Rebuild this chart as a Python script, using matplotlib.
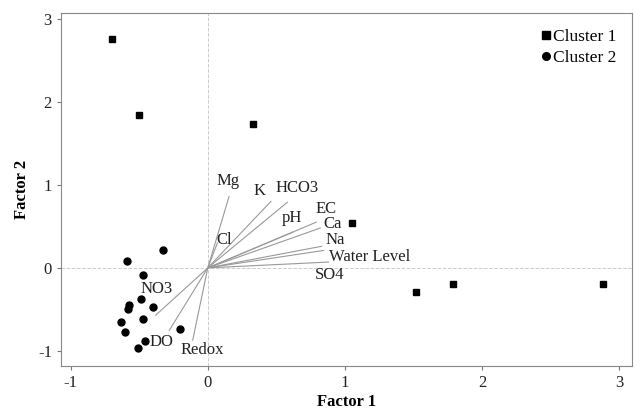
import matplotlib.pyplot as plt

plt.rcParams['font.family'] = ['Liberation Serif', 'DejaVu Serif']
plt.rcParams['axes.unicode_minus'] = False

# Scores
c1_x = [-0.70, -0.50, 0.33, 1.05, 1.52, 1.79, 2.88]
c1_y = [2.76, 1.84, 1.73, 0.54, -0.29, -0.19, -0.20]
c2_x = [-0.33, -0.59, -0.47, -0.49, -0.575, -0.585, -0.40, -0.47, -0.63, -0.60, -0.20, -0.46, -0.51]
c2_y = [0.21, 0.08, -0.08, -0.37, -0.45, -0.50, -0.47, -0.61, -0.65, -0.77, -0.73, -0.88, -0.96]

# Loadings (vector ends) and label positions
var_names = ['Mg', 'Cl', 'K', 'HCO3', 'pH', 'EC', 'Ca', 'Na', 'Water Level', 'SO4', 'NO3', 'DO', 'Redox']
load_x = [0.155, 0.07, 0.46, 0.58, 0.62, 0.79, 0.82, 0.83, 0.845, 0.88, -0.38, -0.28, -0.11]
load_y = [0.86, 0.30, 0.80, 0.79, 0.43, 0.55, 0.48, 0.26, 0.21, 0.07, -0.57, -0.75, -0.87]
lab_x = [0.15, 0.12, 0.38, 0.65, 0.61, 0.865, 0.91, 0.925, 1.18, 0.89, -0.37, -0.34, -0.04]
lab_y = [1.04, 0.34, 0.92, 0.96, 0.60, 0.71, 0.53, 0.34, 0.13, -0.08, -0.25, -0.89, -0.99]

fig = plt.figure(figsize=(6.35, 4.13), dpi=100)
ax = fig.add_axes([0.096, 0.114, 0.899, 0.855])

ax.axhline(0, color='#cccccc', lw=0.7, ls='--', zorder=0)
ax.axvline(0, color='#cccccc', lw=0.7, ls='--', zorder=0)

for i in range(len(var_names)):
    ax.plot([0, load_x[i]], [0, load_y[i]], color='#999999', lw=0.8, zorder=1)
    ax.text(lab_x[i], lab_y[i], var_names[i], fontsize=12, ha='center', va='center', color='#222222')

ax.plot(c1_x, c1_y, 's', color='black', ms=5, ls='none', label='Cluster 1')
ax.plot(c2_x, c2_y, 'o', color='black', ms=5, ls='none', label='Cluster 2')

ax.set_xlim(-1.07, 3.09)
ax.set_ylim(-1.18, 3.07)
ax.set_xticks([-1, 0, 1, 2, 3])
ax.set_yticks([-1, 0, 1, 2, 3])
ax.tick_params(labelsize=12, direction='out', length=3, color='#777777', labelcolor='#222222')
for s in ax.spines.values():
    s.set_color('#888888')

ax.set_xlabel('Factor 1', fontsize=12, fontweight='bold', labelpad=2)
ax.set_ylabel('Factor 2', fontsize=12, fontweight='bold', labelpad=6)

ax.legend(loc='upper right', frameon=False, fontsize=12.5, handletextpad=0.0,
          handlelength=0.8, borderaxespad=0.5, labelspacing=0.3, markerscale=1.1)

fig.savefig('out.png', dpi=100)
